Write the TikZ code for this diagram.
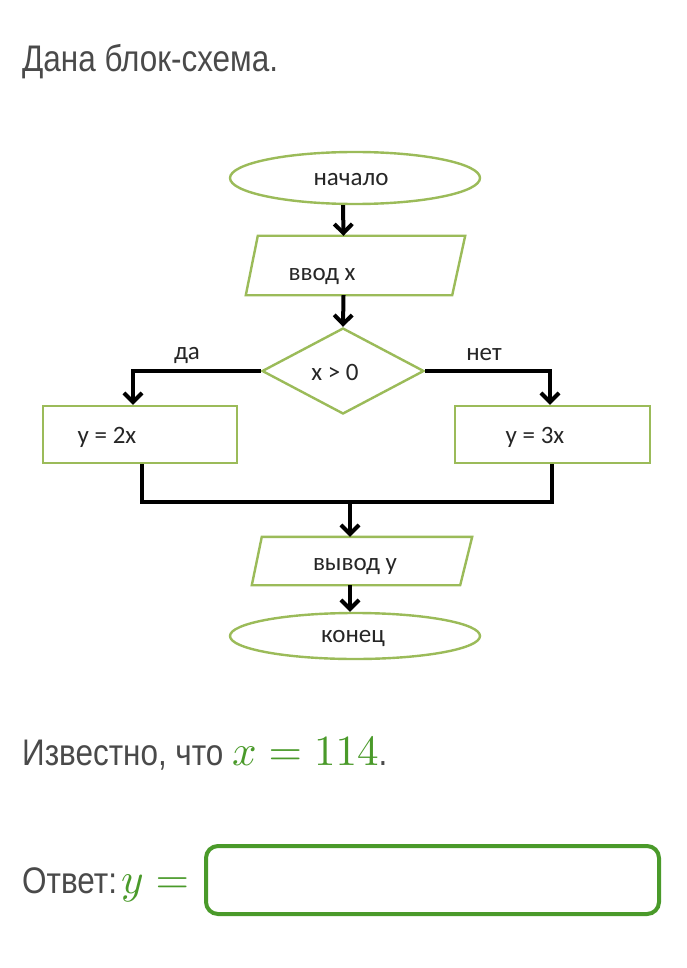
\documentclass[tikz,border=0pt]{standalone}
\usepackage{graphicx}
\usepackage{fontspec}
\setmainfont[FakeStretch=0.85]{Liberation Sans}
\newfontfamily\calib{Carlito}
\usetikzlibrary{shapes.geometric,arrows.meta,calc}
\definecolor{fcgreen}{HTML}{9BBB59}
\definecolor{mgreen}{HTML}{4A9A2A}
\definecolor{txtgray}{HTML}{4A4A4A}
\newcommand{\bigmath}[1]{{\color{mgreen}\scalebox{4.3}{\fontsize{10}{12}\selectfont$#1$}}}
\begin{document}
\begin{tikzpicture}[x=1pt,y=-1pt,
  shapebox/.style={draw=fcgreen, line width=2.4pt, inner sep=0pt},
  fctext/.style={font=\calib\fontsize{25}{28}\selectfont, text=black!85, inner sep=0pt},
  arr/.style={line width=4pt, -{Straight Barb[length=9pt,width=18pt]}},
  conn/.style={line width=4pt, line join=miter},
  bigtext/.style={font=\fontsize{37}{44}\selectfont, text=txtgray, inner sep=0pt, anchor=base west}
]
\useasboundingbox (0,0) rectangle (687,968);
\fill[white] (0,0) rectangle (687,968);

% title
\node[bigtext] (title) at (22,72) {Дана блок-схема.};

% flowchart shapes
\node[shapebox, ellipse, minimum width=250pt, minimum height=52pt] (start) at (355,178) {};
\node[inner sep=0pt, minimum width=219pt, minimum height=59pt] (in) at (355.5,265.5) {};
\draw[fcgreen, line width=2.4pt] ($(in.north west)+(12,0)$) -- (in.north east) -- ($(in.south east)+(-13,0)$) -- (in.south west) -- cycle;
\node[shapebox, diamond, minimum width=162pt, minimum height=86pt] (dec) at (343,371) {};
\node[shapebox, rectangle, minimum width=194pt, minimum height=57pt] (yes) at (140,434.5) {};
\node[shapebox, rectangle, minimum width=195pt, minimum height=57pt] (no) at (552.5,434.5) {};
\node[inner sep=0pt, minimum width=220pt, minimum height=48pt] (out) at (362,561) {};
\draw[fcgreen, line width=2.4pt] ($(out.north west)+(10,0)$) -- (out.north east) -- ($(out.south east)+(-12,0)$) -- (out.south west) -- cycle;
\node[shapebox, ellipse, minimum width=250pt, minimum height=46pt] (stop) at (355,636) {};

% texts inside
\node[fctext] (t1) at (351,180) {начало};
\node[fctext] (t2) at (322,276) {ввод x};
\node[fctext] (t3) at (335,372) {x > 0};
\node[fctext] (t4) at (107,437) {y = 2x};
\node[fctext] (t5) at (535,437) {y = 3x};
\node[fctext] (t6) at (355,566) {вывод y};
\node[fctext] (t7) at (353,638) {конец};
\node[fctext] (lyes) at (187,355) {да};
\node[fctext] (lno) at (484,355) {нет};

% connectors
\coordinate (j) at (350,502);
\draw[arr] ([xshift=-12pt]start.south) -- ([xshift=-12pt]in.north);
\draw[arr] ([xshift=-12pt]in.south) -- (dec.north);
\draw[arr] (dec.west) -| ([xshift=-7pt]yes.north);
\draw[arr] (dec.east) -| ([xshift=-2.5pt]no.north);
\draw[conn] ([xshift=2pt]yes.south) |- (j) -| ([xshift=-0.5pt]no.south);
\draw[arr] (j) -- ([xshift=-12pt]out.north);
\draw[arr] ([xshift=-12pt]out.south) -- (stop.north -| j);

% bottom texts
\node[bigtext] (known) at (22,765) {Известно, что \bigmath{x=114}.};
\node[bigtext] (ans) at (22,893) {Ответ:\hspace{4pt}\bigmath{y=}};
\node[draw=mgreen, line width=4pt, rounded corners=12pt, minimum width=453pt, minimum height=68pt, inner sep=0pt] (box) at (432.5,880) {};
\end{tikzpicture}
\end{document}
